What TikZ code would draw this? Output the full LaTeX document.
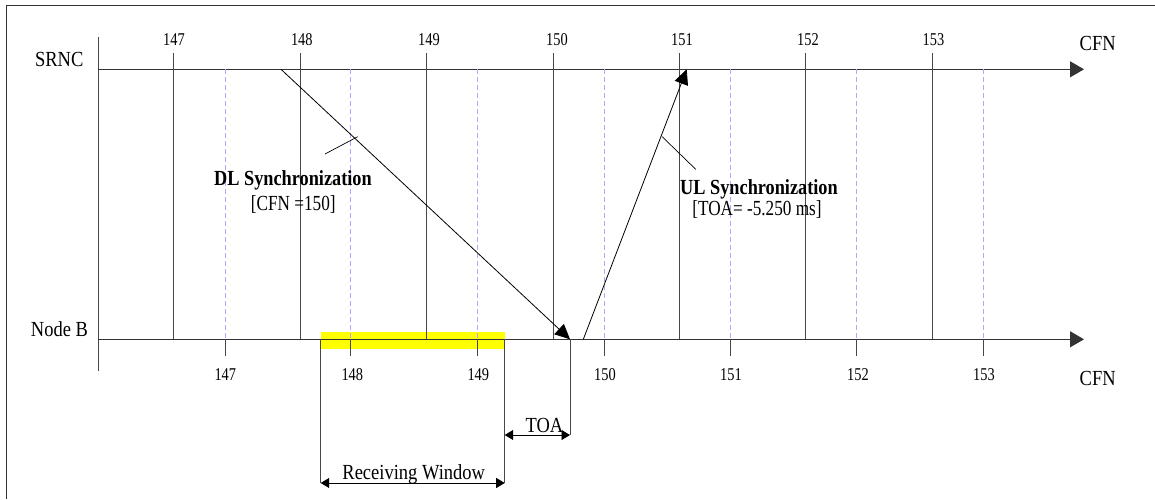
\documentclass[tikz,border=0pt]{standalone}
\usepackage{fontspec}
\setmainfont{Liberation Serif}
\usetikzlibrary{arrows.meta}
\definecolor{lav}{RGB}{195,160,250}
\definecolor{hl}{RGB}{255,255,0}
\begin{document}
\begin{tikzpicture}[x=1pt,y=-1pt,
  frameline/.style={line width=1pt, black!80},
  gridline/.style={line width=1pt, black!72},
  dashline/.style={line width=1pt, lav, dash pattern=on 5pt off 3pt},
  axisline/.style={line width=1pt, black!80, -{Triangle[length=14pt,width=16pt]}},
  sig/.style={line width=0.8pt, black, -{Triangle[length=15pt,width=14pt]}},
  lead/.style={line width=0.7pt, black},
  dimline/.style={line width=0.9pt, black, {Triangle[length=8.5pt,width=10pt]}-{Triangle[length=8.5pt,width=10pt]}},
  txt/.style={inner sep=0pt, anchor=base, font=\fontsize{21.5}{24}\selectfont, xscale=0.86},
  num/.style={inner sep=0pt, anchor=base, font=\fontsize{18}{20}\selectfont, xscale=0.8},
  btxt/.style={inner sep=0pt, anchor=base, font=\fontsize{21.5}{24}\selectfont\bfseries, xscale=0.85},
  brtxt/.style={inner sep=0pt, anchor=base, font=\fontsize{21.5}{24}\selectfont, xscale=0.8},
]
\useasboundingbox (0,0) rectangle (1155,499);
% frame (top and left edges)
\coordinate (fTL) at (6,5.7);
\coordinate (fTR) at (1155,5.7);
\coordinate (fBL) at (6,499);
\draw[frameline] (fTR) -- (fTL) -- (fBL);

% highlight of receiving window
\fill[hl] (320.7,332) rectangle (505,349);

% axes
\coordinate (lvT) at (98,37);
\coordinate (lvB) at (98,371);
\draw[gridline] (lvT) -- (lvB);
\coordinate (sA) at (98,69.3);
\coordinate (sZ) at (1084,69.3);
\coordinate (nA) at (98,339.3);
\coordinate (nZ) at (1084,339.3);
\draw[axisline] (sA) -- (sZ);
\draw[axisline] (nA) -- (nZ);

% SRNC frame boundaries (solid)
\foreach \x [count=\i] in {173.3,300,426.7,553.3,679,805.7,932.7}{
  \coordinate (st\i) at (\x,53.3);
  \coordinate (sb\i) at (\x,339.3);
  \draw[gridline] (st\i) -- (sb\i);
}
% Node B frame boundaries (dashed) with ticks
\foreach \x [count=\i] in {225.5,350.7,477.3,604.3,730.7,856.7,983}{
  \coordinate (dt\i) at (\x,69.3);
  \coordinate (db\i) at (\x,339.3);
  \coordinate (dk\i) at (\x,355.7);
  \draw[dashline] (dt\i) -- (db\i);
  \draw[gridline] (db\i) -- (dk\i);
}

% labels
\node[txt] (srnc) at (59.2,66.7) {SRNC};
\node[txt] (nodeb) at (59.5,336.7) {Node B};
\node[txt] (cfnt) at (1097.7,50.7) {CFN};
\node[txt] (cfnb) at (1097.7,385) {CFN};
\foreach \x/\n in {174/147,301.8/148,429/149,557/150,682/151,808/152,933.5/153}{
  \node[num] (t\n) at (\x,45.7) {\n};
}
\foreach \x/\n in {225.3/147,352.3/148,478.3/149,605/150,731/151,858/152,984/153}{
  \node[num] (b\n) at (\x,380) {\n};
}

% DL / UL synchronization messages
\coordinate (dl0) at (281,69.3);
\coordinate (dl1) at (570,339.3);
\draw[sig] (dl0) -- (dl1);
\coordinate (ul0) at (583.3,339.3);
\coordinate (ul1) at (686.7,69.3);
\draw[sig] (ul0) -- (ul1);

\coordinate (dlA) at (325,154);
\coordinate (dlB) at (357.7,136.7);
\draw[lead] (dlA) -- (dlB);
\coordinate (ulA) at (662.2,136.7);
\coordinate (ulB) at (695.7,169.3);
\draw[lead] (ulA) -- (ulB);

\node[btxt] (dlt) at (293,185.3) {DL Synchronization};
\node[brtxt] (dlc) at (293.3,210) {[CFN =150]};
\node[btxt] (ult) at (759,194) {UL Synchronization};
\node[brtxt] (ulc) at (757,215) {[TOA= -5.250 ms]};

% receiving window and TOA
\coordinate (rwL) at (320.7,339.3);
\coordinate (rwLb) at (320.7,483);
\coordinate (rwR) at (504.7,339.3);
\coordinate (rwRb) at (504.7,483);
\coordinate (rwRm) at (504.7,435);
\coordinate (toaT) at (570,339.3);
\coordinate (toaB) at (570,435);
\draw[gridline] (rwL) -- (rwLb);
\draw[gridline] (rwR) -- (rwRb);
\draw[gridline] (toaT) -- (toaB);
\draw[dimline] (rwLb) -- (rwRb);
\draw[dimline] (rwRm) -- (toaB);
\node[txt] (toat) at (544.5,432.7) {TOA};
\node[txt] (rwt) at (413.7,479.3) {Receiving Window};
\end{tikzpicture}
\end{document}
